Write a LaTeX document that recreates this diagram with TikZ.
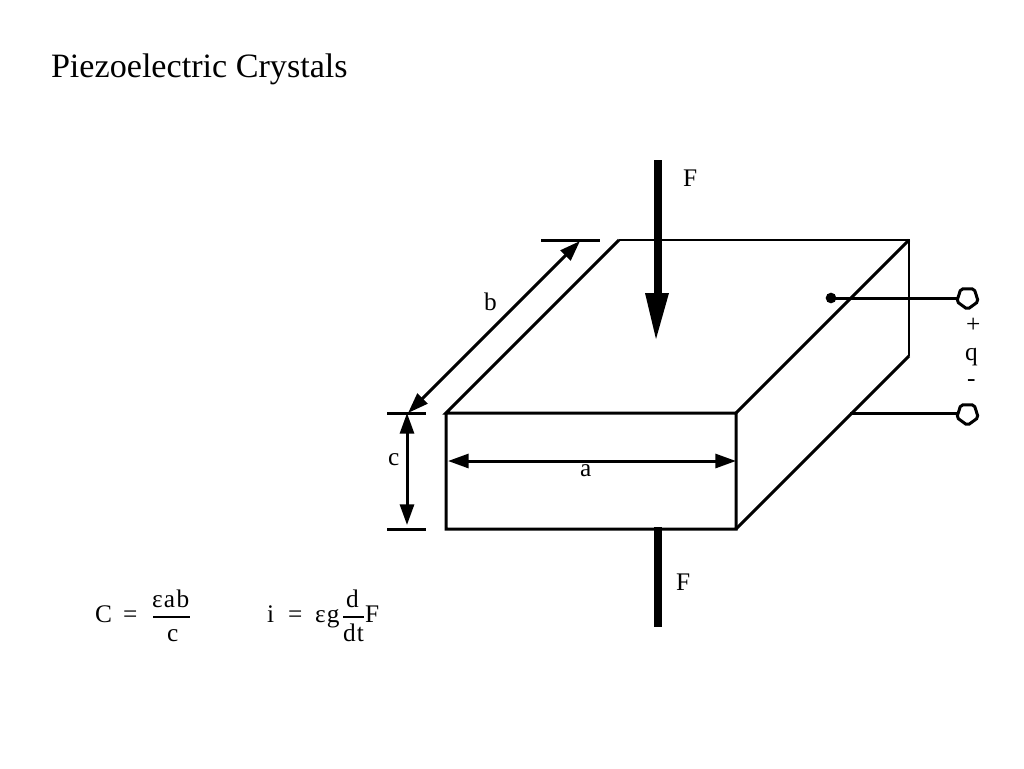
\documentclass[tikz,border=0pt]{standalone}
\usepackage{fontspec}
\setmainfont{Liberation Serif}
\usetikzlibrary{arrows.meta,shapes.geometric}
\tikzset{
  edgeline/.style={line width=2.25pt,black,line cap=butt,line join=miter},
  thinedge/.style={line width=1.7pt,black},
  dimline/.style={line width=2.25pt,black,{Triangle[length=15.5pt,width=10.5pt]}-{Triangle[length=15.5pt,width=10.5pt]}},
  tickline/.style={line width=2.25pt,black},
  fracrule/.style={line width=1.6pt,black},
  forceline/.style={line width=6pt,black},
  lbl/.style={inner sep=0pt,outer sep=0pt,anchor=base west,font=\fontsize{19}{21}\selectfont},
  titletext/.style={inner sep=0pt,outer sep=0pt,anchor=base west,font=\fontsize{25.6}{30}\selectfont},
  terminal/.style={draw=black,line width=2.25pt,fill=white,regular polygon,regular polygon sides=5,shape border rotate=180,rounded corners=1.5pt,minimum size=17pt,inner sep=0pt,outer sep=0pt},
  dot/.style={fill=black,circle,minimum size=8pt,inner sep=0pt,outer sep=0pt}
}
\begin{document}
\begin{tikzpicture}[x=0.75pt,y=-0.75pt]
\useasboundingbox (0,0) rectangle (1024,768);
\node[titletext] (title) at (51,77) {Piezoelectric Crystals};

% block
\coordinate (ftl) at (446,413);
\coordinate (ftr) at (736,413);
\coordinate (fbl) at (446,529);
\coordinate (fbr) at (736,529);
\coordinate (btl) at (619,240);
\coordinate (btr) at (909,240);
\coordinate (bbr) at (909,356);
\draw[edgeline] (btl) -- (ftl) -- (ftr) -- (fbr) -- (fbl) -- (ftl);
\draw[edgeline] (ftr) -- (btr);
\draw[edgeline] (fbr) -- (bbr);
\draw[thinedge] (btl) -- (btr) -- (bbr);

% force arrows
\coordinate (ftop) at (658,160);
\coordinate (fneck) at (658,294);
\coordinate (ftip) at (656,339);
\coordinate (fheadl) at (645,293);
\coordinate (fheadr) at (669,293);
\draw[forceline] (ftop) -- (fneck);
\fill[black] (fheadl) -- (fheadr) -- (ftip) -- cycle;
\coordinate (gtop) at (658,527);
\coordinate (gbot) at (658,627);
\draw[forceline] (gtop) -- (gbot);

% dimension ticks
\coordinate (t1a) at (541,240); \coordinate (t1b) at (600,240);
\coordinate (t2a) at (387,413); \coordinate (t2b) at (426,413);
\coordinate (t3a) at (387,529); \coordinate (t3b) at (426,529);
\draw[tickline] (t1a) -- (t1b);
\draw[tickline] (t2a) -- (t2b);
\draw[tickline] (t3a) -- (t3b);

% dimension arrows
\coordinate (ba) at (580,241); \coordinate (bb) at (408,413);
\coordinate (ca) at (407,413); \coordinate (cb) at (407,525);
\coordinate (aa) at (448,461); \coordinate (ab) at (736,461);
\draw[dimline] (ba) -- (bb);
\draw[dimline] (ca) -- (cb);
\draw[dimline] (aa) -- (ab);

% terminals
\node[terminal] (tplus) at (967.5,298) {};
\node[terminal] (tminus) at (967.5,414) {};
\node[dot] (probe) at (831,298) {};
\coordinate (lead) at (850,413);
\draw[edgeline] (probe.center) -- (tplus.west |- probe);
\draw[edgeline] (lead) -- (tminus.west |- lead);

% labels
\node[lbl] (f1) at (683,186) {F};
\node[lbl] (f2) at (676,590) {F};
\node[lbl] (lb) at (484,310) {b};
\node[lbl] (lc) at (388,465) {c};
\node[lbl] (la) at (580,476) {a};
\node[lbl] (lplus) at (966,332) {+};
\node[lbl] (lq) at (965,360) {q};
\node[lbl] (lminus) at (967,386) {-};

% formulas
\node[lbl] (cc) at (95,622) {C};
\node[lbl] (eq1) at (123,622) {=};
\node[lbl] (num1) at (152,607) {ε\kern1pt a\kern1pt b};
\coordinate (r1a) at (153,617); \coordinate (r1b) at (190,617);
\draw[fracrule] (r1a) -- (r1b);
\node[lbl] (den1) at (167,641) {c};
\node[lbl] (ii) at (267,622) {i};
\node[lbl] (eq2) at (288,622) {=};
\node[lbl] (eg) at (315,622) {ε\kern1pt g};
\node[lbl] (num2) at (346,607) {d};
\coordinate (r2a) at (343,617); \coordinate (r2b) at (364,617);
\draw[fracrule] (r2a) -- (r2b);
\node[lbl] (den2) at (343,641) {d\kern1pt t};
\node[lbl] (ff) at (365,622) {F};
\end{tikzpicture}
\end{document}
